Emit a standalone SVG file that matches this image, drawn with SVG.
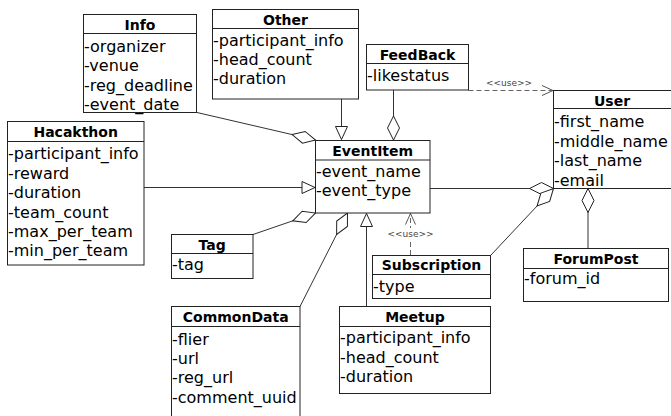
<svg xmlns="http://www.w3.org/2000/svg" width="671" height="416" viewBox="0 0 671 416">
<style>
.box{fill:#fff;stroke:#222;stroke-width:1}
.sep{stroke:#222;stroke-width:1}
.t{font-family:"DejaVu Sans",sans-serif;font-size:14px;font-weight:bold;text-anchor:middle;fill:#000}
.a{font-family:"DejaVu Sans",sans-serif;font-size:16px;fill:#000}
.c{fill:none;stroke:#333;stroke-width:1}
.d{fill:none;stroke:#666;stroke-width:1;stroke-dasharray:5,3}
.lbl{font-family:"DejaVu Sans",sans-serif;font-size:9px;fill:#444;text-anchor:middle}
</style>
<defs>
<marker id="dia" markerWidth="26" markerHeight="14" refX="24" refY="7" orient="auto" markerUnits="userSpaceOnUse" overflow="visible">
<path d="M0,7 L12,1 L24,7 L12,13 Z" fill="#fff" stroke="#222" stroke-width="1"/>
</marker>
<marker id="tri" markerWidth="14" markerHeight="14" refX="13" refY="7" orient="auto" markerUnits="userSpaceOnUse" overflow="visible">
<path d="M0,1 L13,7 L0,13 Z" fill="#fff" stroke="#222" stroke-width="1"/>
</marker>
<marker id="opn" markerWidth="12" markerHeight="14" refX="11" refY="7" orient="auto" markerUnits="userSpaceOnUse" overflow="visible">
<path d="M0,2 L11,7 L0,12" fill="none" stroke="#555" stroke-width="1"/>
</marker>
</defs>
<rect width="671" height="416" fill="#fff"/>

<g id="connectors">
<line class="c" x1="197" y1="112.5" x2="315.5" y2="140" marker-end="url(#dia)"/>
<line class="c" x1="341.5" y1="99" x2="341.5" y2="139.5" marker-end="url(#tri)"/>
<line class="c" x1="393.5" y1="90" x2="393.5" y2="140" marker-end="url(#dia)"/>
<line class="c" x1="144" y1="187.5" x2="315" y2="187.5" marker-end="url(#tri)"/>
<line class="c" x1="253" y1="234.5" x2="315.5" y2="213" marker-end="url(#dia)"/>
<line class="c" x1="300" y1="306.5" x2="347.5" y2="213" marker-end="url(#dia)"/>
<line class="c" x1="366.5" y1="306" x2="366.5" y2="213.5" marker-end="url(#tri)"/>
<line class="d" x1="410.5" y1="255" x2="410.5" y2="213.5" marker-end="url(#opn)"/>
<rect x="390" y="228" width="41" height="11" fill="#fff"/>
<text class="lbl" x="410.5" y="236.5">&lt;&lt;use&gt;&gt;</text>
<line class="d" x1="468.5" y1="90.5" x2="553" y2="90.5" marker-end="url(#opn)"/>
<text class="lbl" x="509" y="85.5">&lt;&lt;use&gt;&gt;</text>
<line class="c" x1="430" y1="188.5" x2="553.5" y2="188.5" marker-end="url(#dia)"/>
<line class="c" x1="491" y1="255" x2="553.5" y2="188.5" marker-end="url(#dia)"/>
<line class="c" x1="588" y1="248.5" x2="588" y2="188.5" marker-end="url(#dia)"/>
</g>

<g id="Info">
<rect class="box" x="83.5" y="14.5" width="113" height="98"/>
<line class="sep" x1="83.5" y1="33.5" x2="196.5" y2="33.5"/>
<text class="t" x="140" y="29.5">Info</text>
<text class="a" x="84" y="52">-organizer</text>
<text class="a" x="84" y="71.4">-venue</text>
<text class="a" x="84" y="90.8">-reg_deadline</text>
<text class="a" x="84" y="110.2">-event_date</text>
</g>

<g id="Other">
<rect class="box" x="212.5" y="9.5" width="146" height="89.5"/>
<line class="sep" x1="212.5" y1="28.5" x2="358.5" y2="28.5"/>
<text class="t" x="285.5" y="24.5">Other</text>
<text class="a" x="213" y="46">-participant_info</text>
<text class="a" x="213" y="65.2">-head_count</text>
<text class="a" x="213" y="84.4">-duration</text>
</g>

<g id="FeedBack">
<rect class="box" x="366.5" y="44.5" width="102" height="45.5"/>
<line class="sep" x1="366.5" y1="63.5" x2="468.5" y2="63.5"/>
<text class="t" x="417.5" y="59.5">FeedBack</text>
<text class="a" x="367" y="80.5">-likestatus</text>
</g>

<g id="User">
<rect class="box" x="553.5" y="90.5" width="120" height="98"/>
<line class="sep" x1="553.5" y1="108.5" x2="673.5" y2="108.5"/>
<text class="t" x="612" y="106">User</text>
<text class="a" x="554" y="126.7">-first_name</text>
<text class="a" x="554" y="146.5">-middle_name</text>
<text class="a" x="554" y="166.2">-last_name</text>
<text class="a" x="554" y="186">-email</text>
</g>

<g id="Hacakthon">
<rect class="box" x="7.5" y="121.5" width="136.5" height="143.5"/>
<line class="sep" x1="7.5" y1="141.5" x2="144" y2="141.5"/>
<text class="t" x="75.7" y="137">Hacakthon</text>
<text class="a" x="8" y="159.3">-participant_info</text>
<text class="a" x="8" y="178.7">-reward</text>
<text class="a" x="8" y="198.1">-duration</text>
<text class="a" x="8" y="217.5">-team_count</text>
<text class="a" x="8" y="236.9">-max_per_team</text>
<text class="a" x="8" y="256.3">-min_per_team</text>
</g>

<g id="EventItem">
<rect class="box" x="315.5" y="140.5" width="114.5" height="72.5"/>
<line class="sep" x1="315.5" y1="160" x2="430" y2="160"/>
<text class="t" x="372.7" y="155.5">EventItem</text>
<text class="a" x="316" y="177">-event_name</text>
<text class="a" x="316" y="196">-event_type</text>
</g>

<g id="Tag">
<rect class="box" x="171.5" y="234.5" width="81.5" height="44"/>
<line class="sep" x1="171.5" y1="253.5" x2="253" y2="253.5"/>
<text class="t" x="212.2" y="249.7">Tag</text>
<text class="a" x="172" y="270">-tag</text>
</g>

<g id="CommonData">
<rect class="box" x="171.5" y="306.5" width="128.5" height="120"/>
<line class="sep" x1="171.5" y1="326.5" x2="300" y2="326.5"/>
<text class="t" x="235.7" y="321.8">CommonData</text>
<text class="a" x="172" y="345">-flier</text>
<text class="a" x="172" y="364.2">-url</text>
<text class="a" x="172" y="383.4">-reg_url</text>
<text class="a" x="172" y="402.6">-comment_uuid</text>
</g>

<g id="Subscription">
<rect class="box" x="372.5" y="255.5" width="118" height="43"/>
<line class="sep" x1="372.5" y1="274.5" x2="490.5" y2="274.5"/>
<text class="t" x="431.5" y="270.3">Subscription</text>
<text class="a" x="373" y="291.7">-type</text>
</g>

<g id="ForumPost">
<rect class="box" x="523.5" y="248.5" width="145" height="53"/>
<line class="sep" x1="523.5" y1="268.5" x2="668.5" y2="268.5"/>
<text class="t" x="596" y="264.3">ForumPost</text>
<text class="a" x="524" y="284">-forum_id</text>
</g>

<g id="Meetup">
<rect class="box" x="339.5" y="306.5" width="151" height="87"/>
<line class="sep" x1="339.5" y1="326.5" x2="490.5" y2="326.5"/>
<text class="t" x="415" y="322">Meetup</text>
<text class="a" x="340" y="343.3">-participant_info</text>
<text class="a" x="340" y="362.6">-head_count</text>
<text class="a" x="340" y="381.8">-duration</text>
</g>
</svg>
